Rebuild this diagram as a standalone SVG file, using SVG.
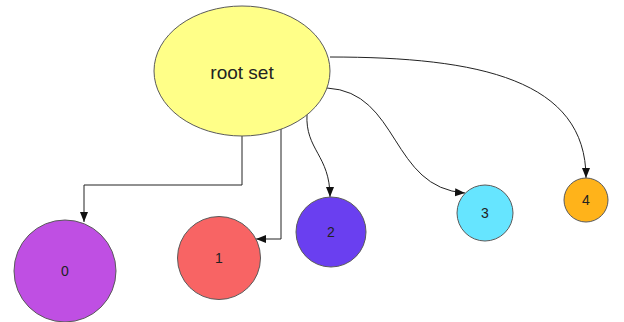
<svg xmlns="http://www.w3.org/2000/svg" width="624" height="322" viewBox="0 0 624 322">
<defs>
<marker id="arr" markerUnits="userSpaceOnUse" markerWidth="10" markerHeight="10" viewBox="0 0 10 10" refX="10" refY="5" orient="auto">
<path d="M0,1 L10,5 L0,9 Z" fill="#111"/>
</marker>
<style>
.n{stroke:#5a5a5a;stroke-width:1}
.t{font-family:"Liberation Sans",Arial,sans-serif;fill:#222;text-anchor:middle}
.e{fill:none;stroke:#222;stroke-width:1;marker-end:url(#arr)}
</style>
</defs>
<rect width="624" height="322" fill="#fff"/>
<g id="connectors">
<path class="e" d="M242,136 V185 H84 V222"/>
<path class="e" d="M281,128 V239 H256"/>
<path class="e" d="M307,114 C305,150 330,155 330,197"/>
<path class="e" d="M327,88 C400,92 390,188 465,193"/>
<path class="e" d="M330,57 C480,57 586,80 586,178"/>
</g>
<g id="root"><ellipse class="n" cx="242" cy="71" rx="88" ry="65" fill="#ffff88"/><text class="t" x="242" y="79" font-size="19">root set</text></g>
<g id="n0"><circle class="n" cx="65" cy="271" r="51" fill="#bf4fe3"/><text class="t" x="65" y="276" font-size="14">0</text></g>
<g id="n1"><circle class="n" cx="219" cy="258" r="41.5" fill="#f86464"/><text class="t" x="219" y="263" font-size="14">1</text></g>
<g id="n2"><circle class="n" cx="331" cy="232" r="35" fill="#6a3ff0"/><text class="t" x="331" y="237" font-size="14">2</text></g>
<g id="n3"><circle class="n" cx="485" cy="213" r="28" fill="#66e5ff"/><text class="t" x="485" y="218" font-size="14">3</text></g>
<g id="n4"><circle class="n" cx="586" cy="200" r="22" fill="#ffb31a"/><text class="t" x="586" y="205" font-size="14">4</text></g>
</svg>
